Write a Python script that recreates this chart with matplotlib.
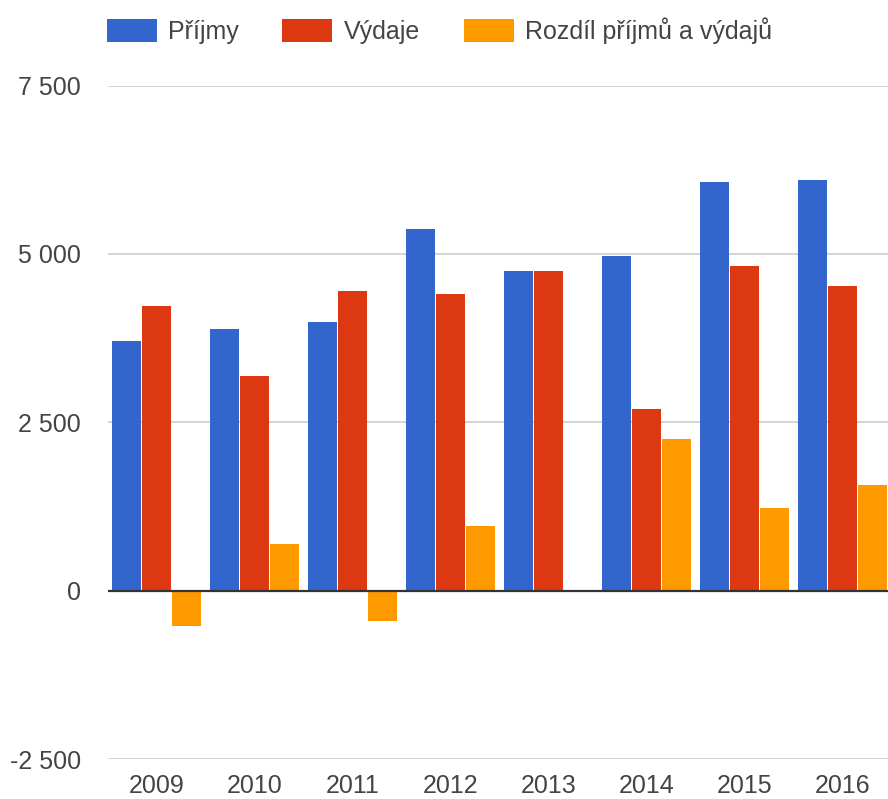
import matplotlib
matplotlib.use("Agg")
import matplotlib.pyplot as plt
import numpy as np

years = ["2009", "2010", "2011", "2012", "2013", "2014", "2015", "2016"]
prijmy = [3700, 3890, 3990, 5370, 4750, 4970, 6070, 6100]
vydaje = [4230, 3190, 4450, 4400, 4750, 2700, 4825, 4530]
rozdil = [-530, 690, -450, 960, 0, 2250, 1230, 1565]
series_names = ["Příjmy", "Výdaje", "Rozdíl příjmů a výdajů"]
colors = ["#3366cc", "#dc3912", "#ff9900"]
yticks = [-2500, 0, 2500, 5000, 7500]
ytick_labels = ["-2 500", "0", "2 500", "5 000", "7 500"]

plt.rcParams['font.family'] = ['Liberation Sans', 'DejaVu Sans']

fig = plt.figure(figsize=(8.88, 7.99), dpi=100)
ax = fig.add_axes([107.5 / 888, 1 - 759.1 / 799, 784 / 888, (759.1 - 85.5) / 799])

x = np.arange(len(years))
w = 0.29
off = 0.308
handles = []
for i, (vals, name, c) in enumerate(zip([prijmy, vydaje, rozdil], series_names, colors)):
    h = ax.bar(x + (i - 1) * off, vals, width=w, color=c, label=name, zorder=3, linewidth=0)
    handles.append(h)

ax.set_xlim(-0.5, len(years) - 0.5)
ax.set_ylim(-2500, 7500)
ax.set_yticks(yticks)
ax.set_yticklabels(ytick_labels)
ax.set_xticks(x)
ax.set_xticklabels(years)
for s in ax.spines.values():
    s.set_visible(False)
ax.tick_params(axis='both', length=0, labelsize=18, labelcolor='#444444')
ax.tick_params(axis='y', pad=19)
ax.tick_params(axis='x', pad=11)
for yv in yticks:
    if yv != 0:
        ax.axhline(yv, color='#cccccc', lw=1.2, zorder=1)
ax.axhline(0, color='#333333', lw=1.6, zorder=4)

leg = fig.legend(handles=handles, labels=series_names, loc='center left',
                 bbox_to_anchor=(106.7 / 888, 1 - 30.3 / 799), ncol=3, frameon=False,
                 fontsize=18, handlelength=2.0, handleheight=1.04, handletextpad=0.45,
                 columnspacing=1.75, borderpad=0, borderaxespad=0)
for t in leg.get_texts():
    t.set_color('#444444')

fig.savefig("out.png", dpi=100)
